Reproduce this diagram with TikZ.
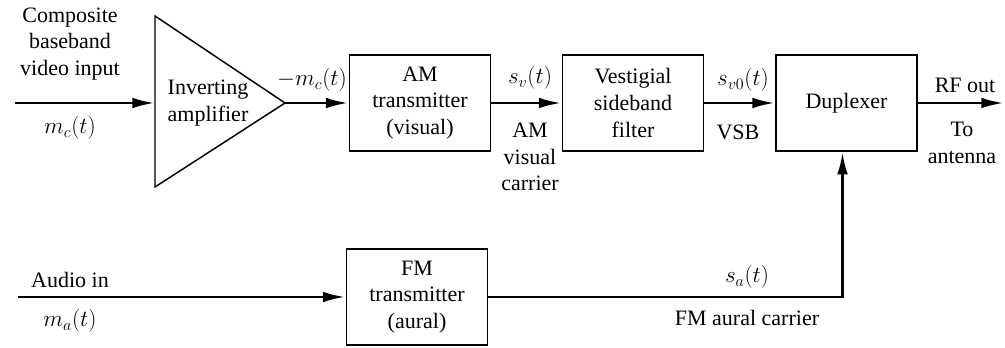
\documentclass[tikz,border=0pt]{standalone}
\usepackage{fontspec}
\setmainfont{Liberation Serif}
\usetikzlibrary{arrows.meta}

\begin{document}
\begin{tikzpicture}[x=0.75pt, y=-0.75pt,
  font=\fontsize{16.5}{20}\selectfont,
  blk/.style={draw, line width=1.1pt, minimum width=106pt, minimum height=72pt,
    inner sep=0pt, align=center},
  lbl/.style={align=center, inner sep=0pt},
  sig/.style={line width=2.2pt, -{Latex[length=17pt,width=8pt]}}]
  \useasboundingbox (0,0) rectangle (1005,348);

  % 反相放大器
  \coordinate (ampin) at (155,103);
  \coordinate (ampout) at (285,103);
  \draw[line width=1.1pt] (155,16) -- (ampout) -- (155,187) -- cycle;
  \node[lbl] (amptxt) at (208,103) {Inverting\\amplifier};

  % 方框
  \node[blk] (am)  at (420,103) {AM\\transmitter\\(visual)};
  \node[blk] (vsb) at (633,103) {Vestigial\\sideband\\filter};
  \node[blk] (dup) at (846.5,103) {Duplexer};
  \node[blk] (fm)  at (417,297) {FM\\transmitter\\(aural)};

  % 端点
  \coordinate (vin) at (15,103);
  \coordinate (ain) at (18,297);
  \coordinate (rfout) at (1004,103);

  % 连线
  \draw[sig] (vin) -- (ampin);
  \draw[sig] (ampout) -- (am.west);
  \draw[sig] (am.east) -- (vsb.west);
  \draw[sig] (vsb.east) -- (dup.west);
  \draw[sig] (dup.east) -- (rfout);
  \draw[sig] (ain) -- (fm.west);
  \draw[sig] (fm.east) -| ([xshift=-3pt]dup.south);

  % 标注
  \node[lbl] (vidin) at (70,44) {Composite\\baseband\\video input};
  \node[lbl] (mc) at (70,128) {$m_c(t)$};
  \node[lbl] (nmc) at (312,80) {$-m_c(t)$};
  \node[lbl] (sv) at (530,78) {$s_v(t)$};
  \node[lbl] (amvc) at (530,157) {AM\\visual\\carrier};
  \node[lbl] (sv0) at (743,80) {$s_{v0}(t)$};
  \node[lbl] (vsbl) at (738,132) {VSB};
  \node[lbl] (rf) at (965,85) {RF out};
  \node[lbl] (ant) at (962,143) {To\\antenna};
  \node[lbl] (audin) at (70,280) {Audio in};
  \node[lbl] (ma) at (70,321) {$m_a(t)$};
  \node[lbl] (sa) at (747,277) {$s_a(t)$};
  \node[lbl] (fmac) at (747,318) {FM aural carrier};
\end{tikzpicture}
\end{document}
